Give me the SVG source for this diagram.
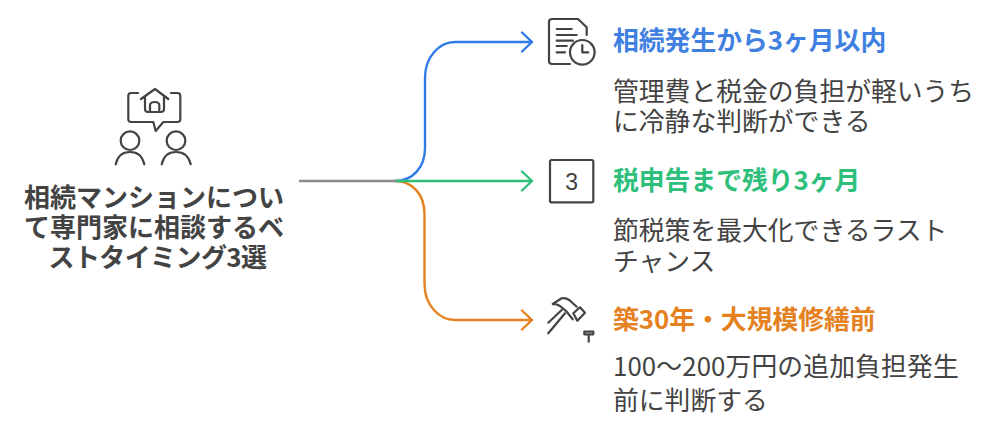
<svg xmlns="http://www.w3.org/2000/svg" width="1000" height="440" viewBox="0 0 1000 440">
<style>
text{font-family:"Noto Sans CJK JP","Noto Sans",sans-serif;font-size:25.8px}
.t{font-weight:700}
.c{font-weight:700;fill:#434343;text-anchor:middle;font-size:26px}
.b{fill:#434343}
.i{fill:none;stroke:#434343;stroke-width:2.2;stroke-linecap:round;stroke-linejoin:round}
.l{fill:none;stroke-width:2.4;stroke-linecap:round;stroke-linejoin:round}
</style>
<rect width="1000" height="440" fill="#fff"/>
<g id="connectors">
<path class="l" stroke="#2f7be5" d="M395 181C413 181 425 167 425 148V78C425 56 440 42 455 42H532M522 32.500L532 42L522 51.500"/>
<path class="l" stroke="#e5811f" d="M395 181C413 181 424.500 195 424.500 214V284C424.500 306 440 320 455 320H532M522 310.500L532 320L522 329.500"/>
<path class="l" stroke="#2fc07a" d="M395 181H532M522 171.500L532 181L522 190.500"/>
<path class="l" stroke="#8c8c8c" d="M300 181H395"/>
</g>
<g id="root">
<g class="i">
<path d="M138 93H131Q128.300 93 128.300 96V119Q128.300 122 131 122H153.300L155.700 131L163.300 122H177.500Q180.300 122 180.300 119V96Q180.300 93 177.500 93H171"/>
<path d="M141 99L155 89L168.300 99M145 96V109Q145 112 148 112H161Q164 112 164 109V96M150 112V105.500Q150 102 154.700 102Q159.300 102 159.300 105.500V112"/>
<circle cx="130" cy="140.700" r="9.300"/>
<path d="M115.700 164.300C117.500 156 123 152 130 152C137 152 142.500 156 144.300 164.300"/>
<circle cx="176" cy="140.700" r="9.300"/>
<path d="M161.700 164.300C163.500 156 169 152 176 152C183 152 188.800 156 190.700 164.300"/>
</g>
<text class="c" x="154" y="207">相続マンションについ</text>
<text class="c" x="154" y="237">て専門家に相談するベ</text>
<text class="c" x="157.500" y="267" letter-spacing="-0.6">ストタイミング3選</text>
</g>
<g id="node1">
<g class="i">
<path d="M586.700 35V27.300L578 19H552Q549 19 549 22V61Q549 64 552 64H570"/>
<path d="M556.700 29H571.700M556.700 35H576.700M556.700 40.700H573M556.700 46H566.700M556.700 52.300H565"/>
<circle cx="582.300" cy="52.300" r="12.300"/>
<path d="M582.300 45V52.300H588.300"/>
</g>
<text class="t" x="613" y="50" fill="#3f80e0">相続発生から3ヶ月以内</text>
<text class="b" x="613" y="101">管理費と税金の負担が軽いうち</text>
<text class="b" x="613" y="131">に冷静な判断ができる</text>
</g>
<g id="node2">
<rect class="i" x="550" y="160" width="43.300" height="42.300" rx="1.500"/>
<text x="571.700" y="190" text-anchor="middle" style="font-size:23px;font-family:'Liberation Sans',sans-serif" fill="#434343">3</text>
<text class="t" x="613" y="190" fill="#2fbf7c">税申告まで残り3ヶ月</text>
<text class="b" x="613" y="240">節税策を最大化できるラスト</text>
<text class="b" x="613" y="271">チャンス</text>
</g>
<g id="node3">
<g class="i">
<path d="M552.700 304L561.700 298.300C565 297.500 567 298.500 569.300 300L576.700 306.700M552.700 304C556 304 558 304.500 560 306L566.700 311.700L572.700 319.300"/>
<path d="M573.300 313.300L580 307.300L585 312.700L577.300 320.700Z"/>
<path d="M561.700 310L548.300 322.700M565 313.300L548.300 333.300"/>
<path d="M584.300 331.700H593.300V334.300H584.300ZM588.700 334.300V341.700"/>
</g>
<text class="t" x="613" y="329" fill="#e5811f">築30年・大規模修繕前</text>
<text class="b" x="613" y="376" letter-spacing="0.12">100〜200万円の追加負担発生</text>
<text class="b" x="613" y="410">前に判断する</text>
</g>
</svg>
